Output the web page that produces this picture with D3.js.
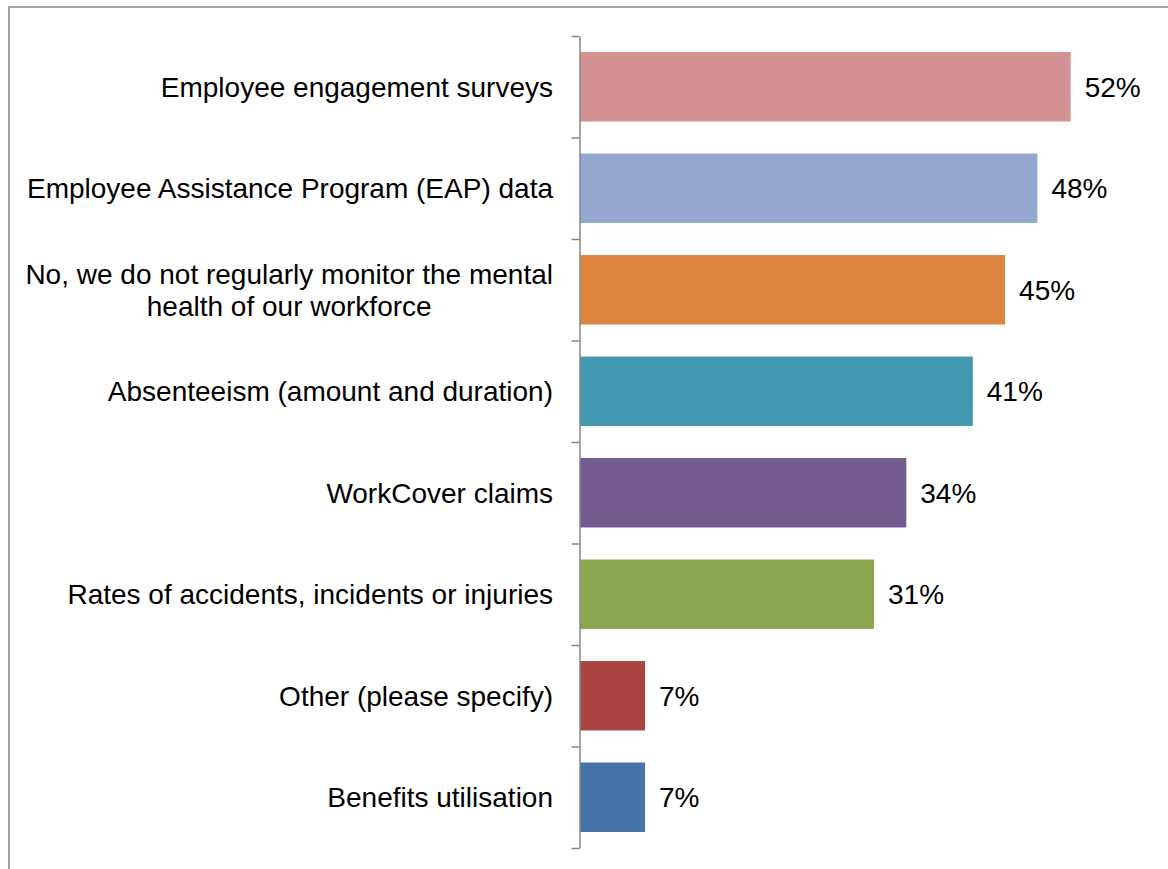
<!DOCTYPE html>
<html>
<head>
<meta charset="utf-8">
<script src="https://cdn.jsdelivr.net/npm/d3@7"></script>
<style>
  html, body { margin: 0; padding: 0; background: #fff; }
  svg { display: block; }
</style>
</head>
<body>
<svg id="chart" width="1168" height="869"></svg>
<script>
const categories = [
  "Employee engagement surveys",
  "Employee Assistance Program (EAP) data",
  "No, we do not regularly monitor the mental health of our workforce",
  "Absenteeism (amount and duration)",
  "WorkCover claims",
  "Rates of accidents, incidents or injuries",
  "Other (please specify)",
  "Benefits utilisation"
];
const values = [51.7, 48.2, 44.8, 41.4, 34.4, 31.0, 6.9, 6.9];
const colors = ["#D39191", "#95A9D0", "#DD843F", "#4399B0", "#735A8F", "#8BA74F", "#AB4543", "#4672A8"];

(function () {
const svg = d3.select("#chart");
const W = 1168, H = 869;
const FONT = "'Liberation Sans', Arial, sans-serif";
const FS = 28;

// outer frame
svg.append("rect")
  .attr("x", 9).attr("y", 7)
  .attr("width", W + 20).attr("height", H + 20)
  .attr("fill", "#fff")
  .attr("stroke", "#8f8f8f")
  .attr("stroke-width", 1.6);

const x0 = 579.5, yTop = 36, yBottom = 848;
const x = d3.scaleLinear().domain([0, 60]).range([x0, x0 + 570]);
const y = d3.scaleBand().domain(categories).range([yTop, yBottom])
  .paddingInner(0.316).paddingOuter(0.158);
const yIdx = d3.scaleLinear().domain([0, categories.length]).range([yTop, yBottom]);

// bars
svg.append("g").selectAll("rect")
  .data(categories)
  .join("rect")
  .attr("x", x(0) + 0.5)
  .attr("y", d => y(d))
  .attr("width", (d, i) => x(values[i]) - x(0) - 0.5)
  .attr("height", y.bandwidth())
  .attr("fill", (d, i) => colors[i]);

// axis with boundary ticks
const axis = d3.axisLeft(yIdx)
  .tickValues(d3.range(categories.length + 1))
  .tickSize(8).tickSizeOuter(0).tickFormat("");
const ag = svg.append("g").attr("transform", `translate(${x0},0)`).call(axis);
ag.selectAll("path, line").attr("stroke", "#868686").attr("stroke-width", 1.5);

// category labels (wrapped, block right-aligned, lines centred)
const maxW = 535, labelRight = 553;
const lg = svg.append("g");
const probe = svg.append("text").attr("font-family", FONT).attr("font-size", FS);
const measure = s => { probe.text(s); return probe.node().getComputedTextLength(); };
categories.forEach((c, i) => {
  const cy = y(c) + y.bandwidth() / 2;
  const words = c.split(" ");
  let lines = [], cur = [];
  words.forEach(w => {
    const test = cur.concat([w]).join(" ");
    if (measure(test) > maxW && cur.length) {
      lines.push(cur.join(" "));
      cur = [w];
    } else cur.push(w);
  });
  lines.push(cur.join(" "));
  const blockW = d3.max(lines, measure);
  const multi = lines.length > 1;
  const t = lg.append("text")
    .attr("text-anchor", multi ? "middle" : "end")
    .attr("font-family", FONT)
    .attr("font-size", FS)
    .attr("fill", "#000");
  const lh = 32;
  const startY = cy - (lines.length - 1) * lh / 2 + FS * 0.35;
  const tx = multi ? labelRight - blockW / 2 : labelRight;
  lines.forEach((l, j) => {
    t.append("tspan").attr("x", tx).attr("y", startY + j * lh).text(l);
  });
});
probe.remove();

// value labels
const fmt = v => d3.format(".0f")(v) + "%";
svg.append("g").selectAll("text")
  .data(categories)
  .join("text")
  .attr("x", (d, i) => x(values[i]) + 14)
  .attr("y", d => y(d) + y.bandwidth() / 2 + FS * 0.35)
  .attr("font-family", FONT)
  .attr("font-size", FS)
  .attr("fill", "#000")
  .text((d, i) => fmt(values[i]));
})();
</script>
</body>
</html>
